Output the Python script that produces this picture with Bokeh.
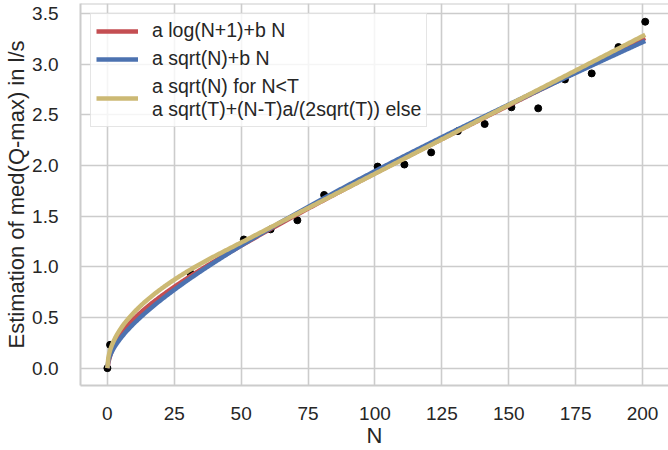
import numpy as np
from bokeh.plotting import figure
from bokeh.models import (Range1d, FixedTicker, Legend, LegendItem, Span,
                          NumeralTickFormatter)
from bokeh.embed import file_html
from bokeh.resources import INLINE

# ---- data ----
N_obs = [0, 1, 31, 51, 61, 71, 81, 101, 111, 121, 131, 141,
         151, 161, 171, 181, 191, 201]
y_obs = [0.0, 0.23, 0.94, 1.27, 1.37, 1.46, 1.71,
         1.99, 2.01, 2.13, 2.34, 2.41, 2.575, 2.565, 2.85, 2.91, 3.17, 3.42]

# fitted parameters of the three models
log_params = [0.1528, 0.01218]          # a, b : a log(N+1) + b N
sqrt_params = [0.1147, 0.00798]         # a, b : a sqrt(N) + b N
piece_params = [0.1746, 41.3]           # a, T : piecewise sqrt / linear

x_ticks = [0, 25, 50, 75, 100, 125, 150, 175, 200]
y_ticks = [0.0, 0.5, 1.0, 1.5, 2.0, 2.5, 3.0, 3.5]

labels = ["a log(N+1)+b N",
          "a sqrt(N)+b N",
          "a sqrt(N) for N<T\na sqrt(T)+(N-T)a/(2sqrt(T)) else"]
colors = ["#c44e52", "#4c72b0", "#ccb974"]

# ---- model curves ----
Nc = np.linspace(0, max(N_obs), 600)
y_log = log_params[0] * np.log(Nc + 1) + log_params[1] * Nc
y_sqrt = sqrt_params[0] * np.sqrt(Nc) + sqrt_params[1] * Nc
a, T = piece_params
y_piece = np.where(Nc < T, a * np.sqrt(Nc),
                   a * np.sqrt(T) + (Nc - T) * a / (2 * np.sqrt(T)))

FONT = "Liberation Sans"
TXT = "#262626"
GRID = "#cccccc"

p = figure(width=668, height=450, output_backend="svg", toolbar_location=None,
           x_range=Range1d(-10.05, 209.7), y_range=Range1d(-0.1715, 3.6),
           min_border_left=80, min_border_right=0, min_border_top=3,
           min_border_bottom=62)
p.outline_line_color = None
p.background_fill_color = "white"
p.border_fill_color = "white"

p.xaxis.ticker = FixedTicker(ticks=x_ticks)
p.yaxis.ticker = FixedTicker(ticks=y_ticks)
p.yaxis.formatter = NumeralTickFormatter(format="0.0")
for ax in (p.xaxis, p.yaxis):
    ax.major_tick_line_color = None
    ax.minor_tick_line_color = None
    ax.axis_line_color = GRID
    ax.axis_line_width = 2
    ax.major_label_text_font = FONT
    ax.major_label_text_font_size = "19px"
    ax.major_label_text_color = TXT
    ax.axis_label_text_font = FONT
    ax.axis_label_text_font_size = "22px"
    ax.axis_label_text_color = TXT
    ax.axis_label_text_font_style = "normal"
p.xaxis.axis_label = "N"
p.yaxis.axis_label = "Estimation of med(Q-max) in l/s"
p.xaxis.major_label_standoff = 15
p.yaxis.major_label_standoff = 16
p.xaxis.axis_label_standoff = 0
p.yaxis.axis_label_standoff = 0

p.grid.grid_line_color = GRID
p.grid.grid_line_width = 1.6
p.add_layout(Span(location=3.6, dimension="width", line_color=GRID, line_width=2))

p.scatter(N_obs, y_obs, size=7, color="black")

r1 = p.line(Nc, y_log, line_color=colors[0], line_width=4.5)
r2 = p.line(Nc, y_sqrt, line_color=colors[1], line_width=4.5)
r3 = p.line(Nc, y_piece, line_color=colors[2], line_width=4.5)

legend = Legend(items=[LegendItem(label=labels[0], renderers=[r1]),
                       LegendItem(label=labels[1], renderers=[r2]),
                       LegendItem(label=labels[2], renderers=[r3])],
                location="top_left", margin=10, padding=5, spacing=5,
                glyph_width=42, label_height=22, label_standoff=14,
                label_text_font=FONT, label_text_font_size="19.5px",
                label_text_color=TXT,
                border_line_color=GRID, border_line_width=1.2,
                background_fill_color="white", background_fill_alpha=0.8)
p.add_layout(legend)

open("out.html", "w").write(file_html(p, INLINE))
